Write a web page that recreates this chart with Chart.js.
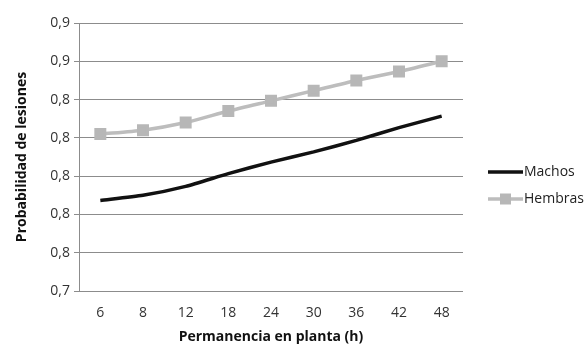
<!DOCTYPE html>
<html>
<head>
<meta charset="utf-8">
<script src="https://cdn.jsdelivr.net/npm/chart.js@4"></script>
<style>
  body { margin: 0; background: #fff; }
  #wrap { width: 587px; height: 345px; }
</style>
</head>
<body>
<div id="wrap"><canvas id="myChart" width="587" height="345"></canvas></div>
<script>
var horas = ['6', '8', '12', '18', '24', '30', '36', '42', '48'];
var machos = [0.771, 0.775, 0.782, 0.792, 0.801, 0.809, 0.818, 0.828, 0.837];
var hembras = [0.823, 0.826, 0.832, 0.841, 0.849, 0.857, 0.865, 0.872, 0.880];
var yLabels = ['0,7', '0,8', '0,8', '0,8', '0,8', '0,8', '0,9', '0,9'];

var fuente = "'Open Sans', sans-serif";

// legend on the right, line + marker like the original
var leyenda = {
  id: 'leyenda',
  afterDraw: function(chart) {
    var ctx = chart.ctx;
    var x0 = 488, x1 = 523;
    var filas = [172, 199];
    ctx.save();
    chart.data.datasets.forEach(function(ds, i) {
      var y = filas[i];
      ctx.strokeStyle = ds.borderColor;
      ctx.lineWidth = ds.borderWidth;
      ctx.beginPath();
      ctx.moveTo(x0, y);
      ctx.lineTo(x1, y);
      ctx.stroke();
      if (ds.pointRadius > 0) {
        ctx.fillStyle = ds.pointBackgroundColor;
        ctx.fillRect((x0 + x1) / 2 - 5.5, y - 5.5, 11, 11);
      }
      ctx.fillStyle = '#222';
      ctx.font = '14px ' + fuente;
      ctx.textBaseline = 'middle';
      ctx.fillText(ds.label, x1 + 1, y);
    });
    ctx.restore();
  }
};

var ctx = document.getElementById('myChart').getContext('2d');
var chart = new Chart(ctx, {
  type: 'line',
  data: {
    labels: horas,
    datasets: [
      {
        label: 'Machos',
        data: machos,
        borderColor: '#111111',
        borderWidth: 3.5,
        pointRadius: 0,
        pointHoverRadius: 0,
        tension: 0.2,
        fill: false
      },
      {
        label: 'Hembras',
        data: hembras,
        borderColor: '#bdbdbd',
        backgroundColor: '#bdbdbd',
        pointBackgroundColor: '#b7b7b7',
        pointBorderColor: '#b7b7b7',
        pointStyle: 'rect',
        pointRadius: 6,
        borderWidth: 3.5,
        tension: 0.25,
        fill: false
      }
    ]
  },
  options: {
    responsive: false,
    animation: false,
    layout: { padding: { top: 23, right: 124, bottom: 0, left: 4 } },
    plugins: {
      legend: { display: false },
      tooltip: { enabled: false }
    },
    scales: {
      x: {
        offset: true,
        afterFit: function(axis) { axis.height = 54; },
        grid: { display: false, drawTicks: false },
        border: { display: false },
        ticks: { color: '#333', font: { family: fuente, size: 14 }, padding: 14 },
        title: {
          display: true,
          text: 'Permanencia en planta (h)',
          color: '#111',
          font: { family: fuente, size: 14, weight: 'bold' },
          padding: { top: 4, bottom: 0 }
        }
      },
      y: {
        min: 0.70,
        max: 0.91,
        afterBuildTicks: function(axis) {
          axis.ticks = yLabels.map(function(l, i) { return { value: 0.70 + i * 0.03 }; });
        },
        afterFit: function(axis) { axis.width = 75; },
        grid: { color: '#8c8c8c', lineWidth: 1, tickLength: 5, drawTicks: true },
        border: { display: true, color: '#8c8c8c', width: 1 },
        ticks: {
          color: '#333',
          font: { family: fuente, size: 14 },
          padding: 4,
          callback: function(v, i) { return yLabels[i]; }
        },
        title: {
          display: true,
          text: 'Probabilidad de lesiones',
          color: '#111',
          font: { family: fuente, size: 14, weight: 'bold' },
          padding: { top: 10, bottom: 6 }
        }
      }
    }
  },
  plugins: [leyenda]
});
</script>
</body>
</html>
